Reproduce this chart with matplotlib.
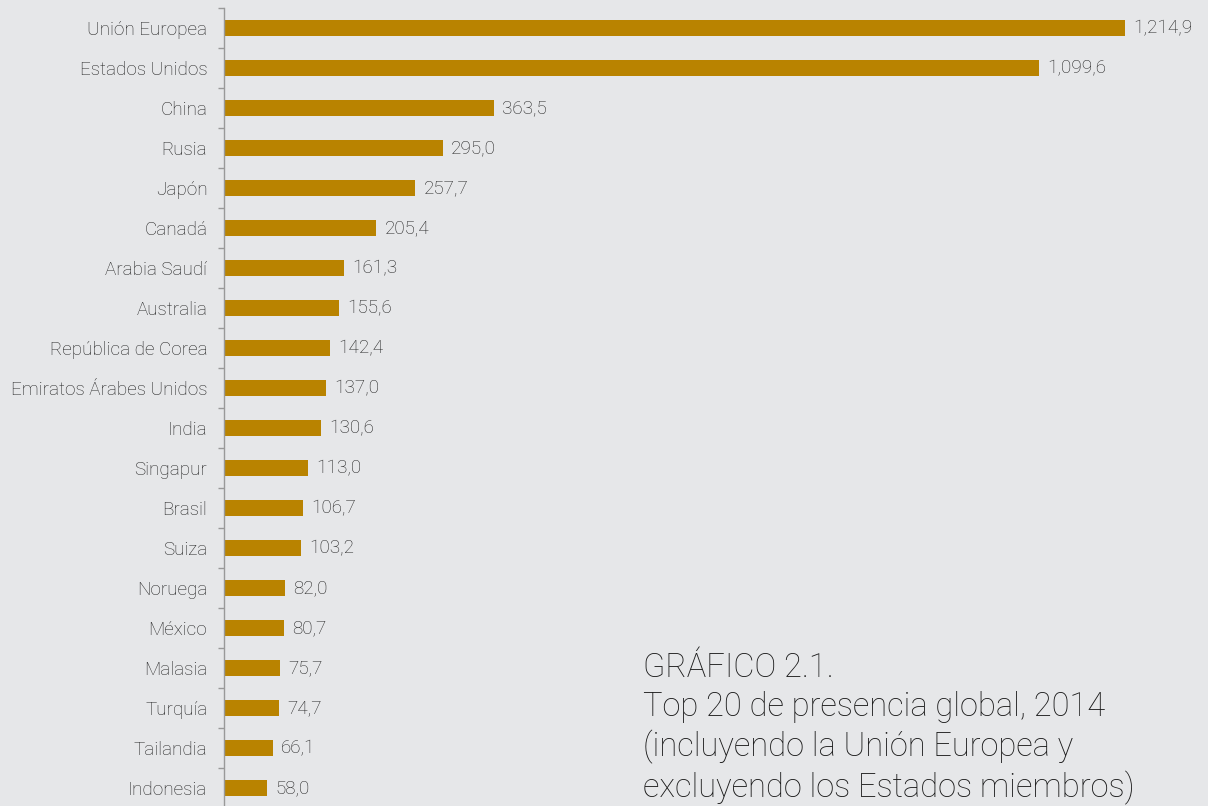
import matplotlib.pyplot as plt
import numpy as np

paises = ["Unión Europea", "Estados Unidos", "China", "Rusia", "Japón", "Canadá",
          "Arabia Saudí", "Australia", "República de Corea", "Emiratos Árabes Unidos",
          "India", "Singapur", "Brasil", "Suiza", "Noruega", "México", "Malasia",
          "Turquía", "Tailandia", "Indonesia"]
valores = [1214.9, 1099.6, 363.5, 295.0, 257.7, 205.4, 161.3, 155.6, 142.4, 137.0,
           130.6, 113.0, 106.7, 103.2, 82.0, 80.7, 75.7, 74.7, 66.1, 58.0]
titulo = ("GRÁFICO 2.1.\nTop 20 de presencia global, 2014\n"
          "(incluyendo la Unión Europea y\nexcluyendo los Estados miembros)")

fondo = "#e6e7e9"
oro = "#b98300"
plt.rcParams['font.family'] = ['Roboto', 'DejaVu Sans']

fig = plt.figure(figsize=(12.08, 8.06), dpi=100, facecolor=fondo)
# axes: x de 224 a 1208 px, y de 8 a 808 px
ax = fig.add_axes([224 / 1208, (806 - 808) / 806, 984 / 1208, 800 / 806])
ax.set_facecolor(fondo)

y = np.arange(len(paises))
ax.barh(y, valores, height=0.4, color=oro)
ax.set_ylim(len(paises) - 0.5, -0.5)
ax.set_xlim(0, 1327)

for yi, v in zip(y, valores):
    txt = f"{v:,.1f}".replace(".", ",")
    ax.annotate(txt, (v, yi), xytext=(6, 0), textcoords="offset points",
                va="center", ha="left", fontsize=13.6, color="#222222",
                fontweight="light")

ax.set_yticks(y)
ax.set_yticklabels(paises, fontsize=13.6, color="#222222", fontweight="light")
ax.tick_params(axis="y", which="major", length=0, pad=12)
ax.set_yticks(np.arange(-0.5, len(paises), 1.0), minor=True)
ax.tick_params(axis="y", which="minor", length=4, width=1, color="#999999")
ax.set_xticks([])

for s in ["top", "right", "bottom"]:
    ax.spines[s].set_visible(False)
ax.spines["left"].set_color("#999999")
ax.spines["left"].set_linewidth(1)

fig.text(643 / 1208, 1 - 652 / 806, titulo, ha="left", va="top", fontsize=23.5,
         color="#1a1a1a", fontweight="light", linespacing=1.27)

fig.savefig("out.png", dpi=100, facecolor=fondo)
